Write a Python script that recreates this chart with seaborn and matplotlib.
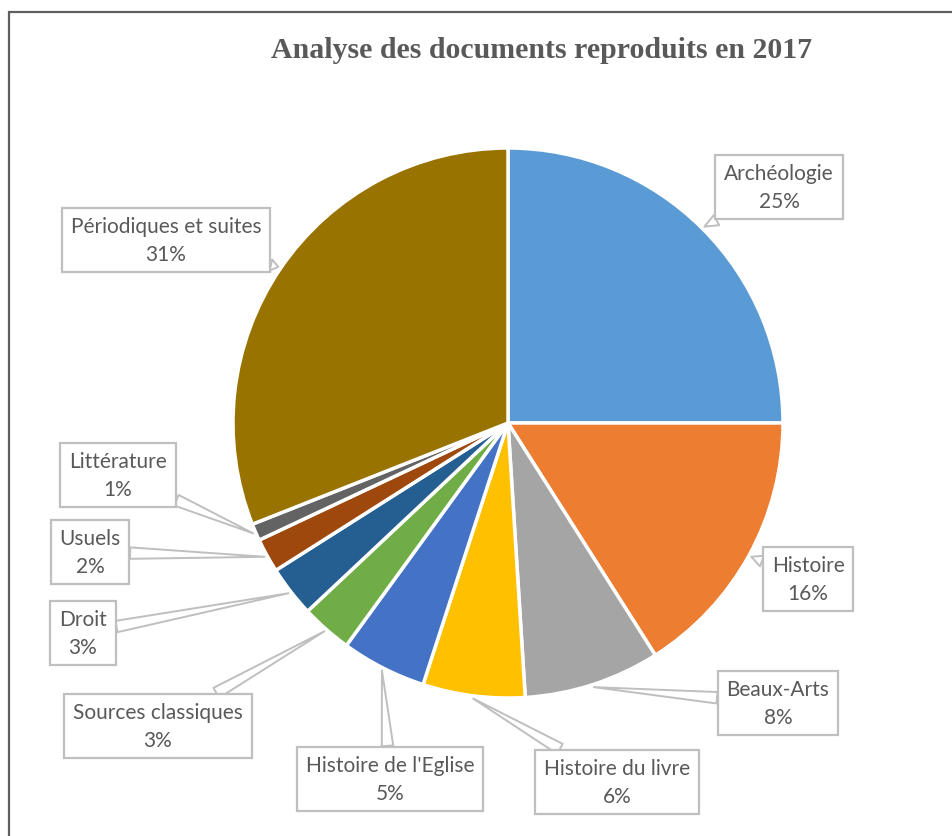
import numpy as np
import seaborn as sns
import matplotlib.pyplot as plt
from matplotlib.patches import Rectangle

# Parts of the documents reproduced in 2017 (percent)
categories = ["Archéologie", "Histoire", "Beaux-Arts", "Histoire du livre",
              "Histoire de l'Eglise", "Sources classiques", "Droit", "Usuels",
              "Littérature", "Périodiques et suites"]
shares = [25, 16, 8, 6, 5, 3, 3, 2, 1, 31]
colors = ["#5B9BD5", "#ED7D31", "#A5A5A5", "#FFC000", "#4472C4",
          "#70AD47", "#255E91", "#9E480E", "#636363", "#997300"]

# callout box centres, in pixels from the top-left corner
box_pos = [(779, 188), (808, 580), (778, 704), (617, 783), (390, 780),
           (158, 727), (83, 634), (90, 553), (118, 476), (166, 241)]

sns.set_theme(style="white")
plt.rcParams["font.family"] = ["Lato", "DejaVu Sans"]

W, H = 952, 837
fig = plt.figure(figsize=(W / 100, H / 100), dpi=100)
ax = fig.add_axes([0, 0, 1, 1])

cx, cy, r = 508, H - 424, 275
wedges, _ = ax.pie(shares, colors=colors, startangle=90, counterclock=False,
                   center=(cx, cy), radius=r, frame=True,
                   wedgeprops=dict(edgecolor="white", linewidth=2.5))
ax.set_xlim(0, W)
ax.set_ylim(0, H)
ax.set_aspect("equal")
ax.axis("off")

for w, name, val, (bx, by) in zip(wedges, categories, shares, box_pos):
    mid = np.deg2rad((w.theta1 + w.theta2) / 2)
    tip = (cx + r * 1.01 * np.cos(mid), cy + r * 1.01 * np.sin(mid))
    ax.annotate(f"{name}\n{val}%", xy=tip, xytext=(bx, H - by),
                ha="center", va="center", fontsize=15, color="#595959",
                linespacing=1.45,
                bbox=dict(boxstyle="square,pad=0.42", fc="white",
                          ec="#BFBFBF", lw=1.6),
                arrowprops=dict(arrowstyle="wedge,tail_width=0.55,shrink_factor=0.5",
                                fc="white", ec="#BFBFBF", lw=1.4,
                                shrinkA=0, shrinkB=0))

fig.text(542 / W, 1 - 51 / H, "Analyse des documents reproduits en 2017",
         ha="center", va="center", fontsize=21.5, fontweight="bold",
         color="#595959", family=["Liberation Serif", "DejaVu Serif"])

# chart frame (left and top edges visible in the crop)
fig.patches.append(Rectangle((9 / W, -0.1), 1.2, 1.1 - 13 / H,
                             transform=fig.transFigure, fill=False,
                             ec="#5f5f5f", lw=1.6))

fig.savefig("out.png", dpi=100)
